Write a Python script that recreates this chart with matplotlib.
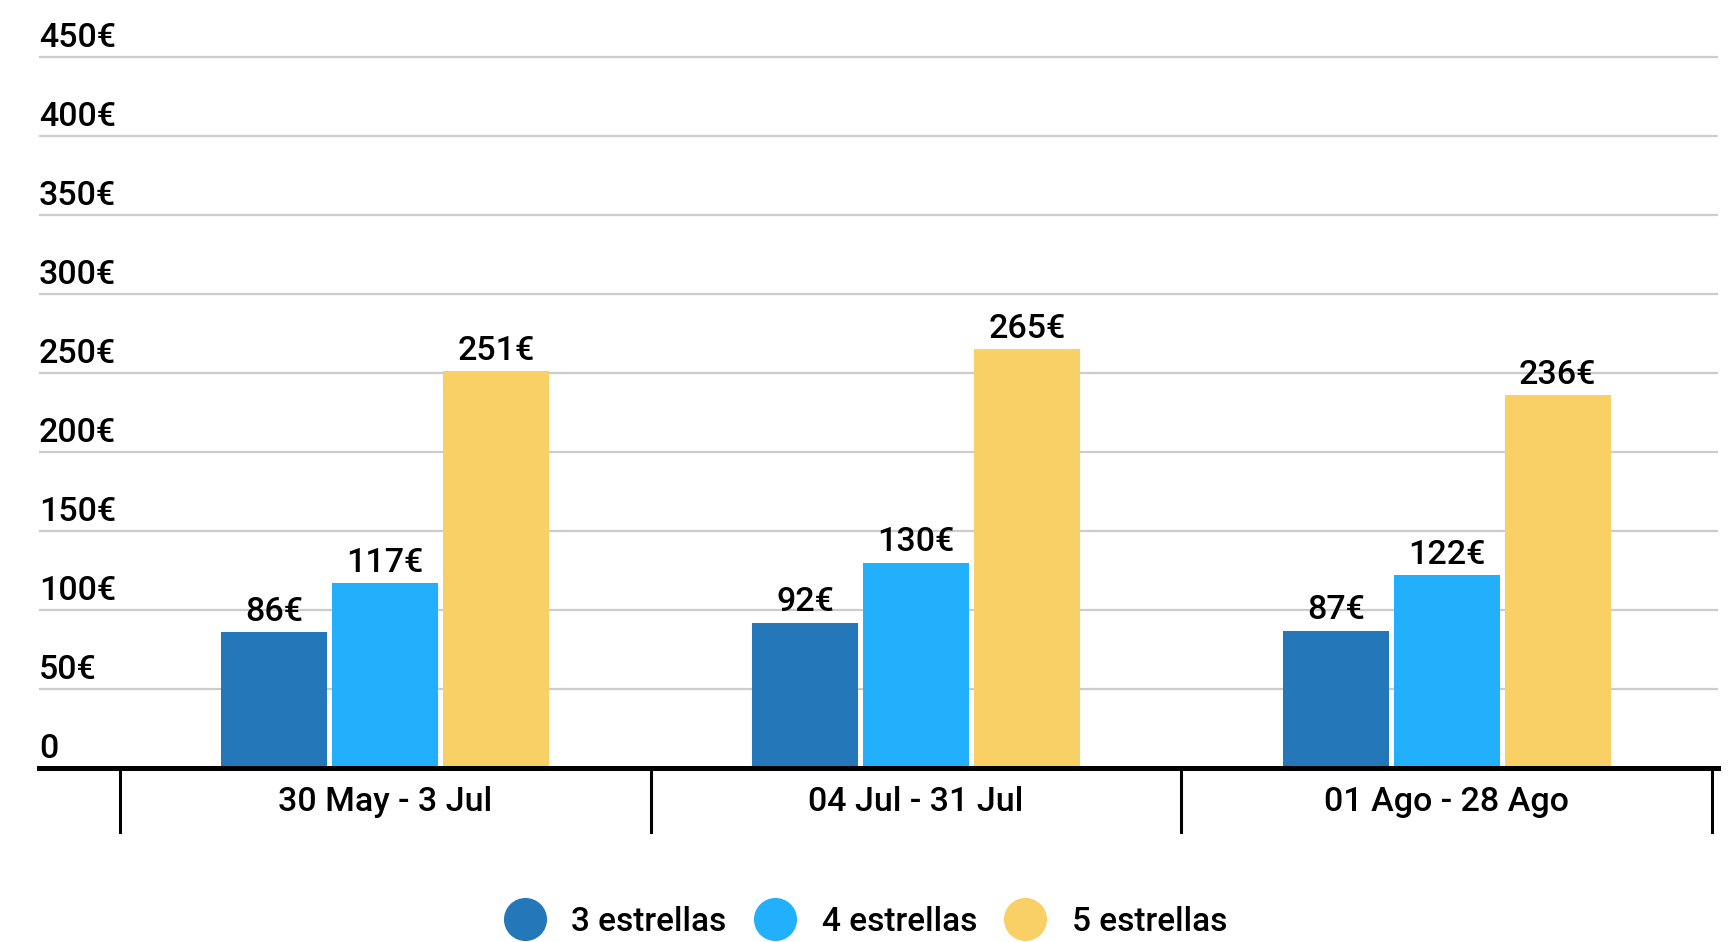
import matplotlib
matplotlib.use("Agg")
import matplotlib.pyplot as plt
from matplotlib.lines import Line2D
import matplotlib.transforms as mtransforms
import numpy as np

categories = ["30 May - 3 Jul", "04 Jul - 31 Jul", "01 Ago - 28 Ago"]
series_names = ["3 estrellas", "4 estrellas", "5 estrellas"]
values = {
    "3 estrellas": [86, 92, 87],
    "4 estrellas": [117, 130, 122],
    "5 estrellas": [251, 265, 236],
}
colors = ["#2477B9", "#22AFFB", "#F8D066"]
y_ticks = [0, 50, 100, 150, 200, 250, 300, 350, 400, 450]
y_tick_labels = ["0", "50€", "100€", "150€", "200€", "250€", "300€", "350€", "400€", "450€"]

plt.rcParams['font.family'] = ['Roboto', 'DejaVu Sans']
W, H = 1732, 942
fig = plt.figure(figsize=(W / 100, H / 100), dpi=100)

px_per_unit = (768 - 57) / 450.0
ymax = 460
ax_left, ax_right = 39, 1718
ax_bottom_px = 768
ax_h = ymax * px_per_unit
ax = fig.add_axes([ax_left / W, (H - ax_bottom_px) / H, (ax_right - ax_left) / W, ax_h / H])

cat_w = 531.0
xl = -0.5 - (120 - ax_left) / cat_w
xr = 2.5 + (ax_right - 1712) / cat_w
ax.set_xlim(xl, xr)
ax.set_ylim(0, ymax)

fs = 24.5
fw = "medium"
tc = "#000000"
bw = 106 / cat_w
step = 111 / cat_w
x = np.arange(len(categories))
for i, name in enumerate(series_names):
    xs = x + (i - 1) * step
    ax.bar(xs, values[name], width=bw, color=colors[i], zorder=3, linewidth=0)
    for xi, v in zip(xs, values[name]):
        ax.annotate(f"{v}€", (xi, v), xytext=(0, 3), textcoords="offset points",
                    ha="center", va="bottom", fontsize=fs, fontweight=fw, color=tc)

# gridlines
for v in y_ticks[1:]:
    ax.axhline(v, color="#cccccc", lw=1.6, zorder=1)
# y labels above gridlines
trans = mtransforms.blended_transform_factory(ax.transAxes, ax.transData)
for v, lab in zip(y_ticks, y_tick_labels):
    t = ax.text(0, v, lab, transform=trans, ha="left", va="baseline",
                fontsize=fs, fontweight=fw, color=tc)
    t.set_transform(trans + mtransforms.ScaledTranslation(0, 10 / 100, fig.dpi_scale_trans))

# baseline
ax.axhline(0, color="black", lw=3.6, zorder=4, clip_on=False)
# separators
sep_depth = (832 - 768) / px_per_unit
for s in np.arange(len(categories) + 1) - 0.5:
    ax.plot([s, s], [0, -sep_depth], color="black", lw=2.2, clip_on=False, zorder=4)

ax.set_xticks(x)
ax.set_xticklabels(categories, fontsize=fs, fontweight=fw, color=tc)
ax.tick_params(axis="x", length=0, pad=13)
ax.set_yticks([])
for sp in ax.spines.values():
    sp.set_visible(False)

handles = [Line2D([0], [0], marker="o", linestyle="none", markersize=30,
                  markerfacecolor=c, markeredgecolor=c) for c in colors]
fig.legend(handles, series_names, loc="center", bbox_to_anchor=(0.5, 1 - 922 / H),
           ncol=3, frameon=False, handlelength=1.2, handletextpad=0.8, columnspacing=0.85,
           prop={"size": 24, "weight": fw})

fig.savefig("out.png", dpi=100)
